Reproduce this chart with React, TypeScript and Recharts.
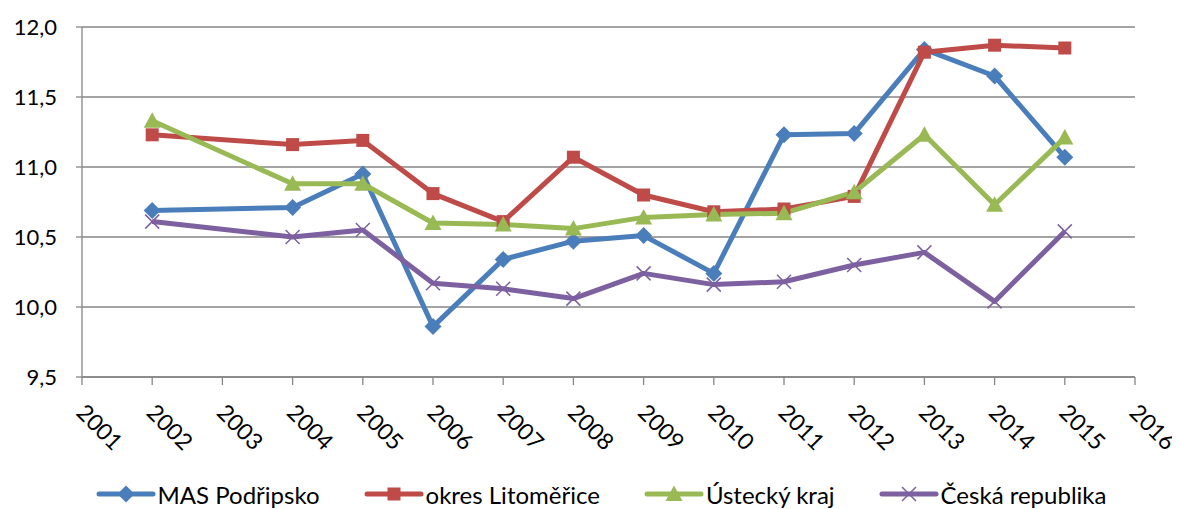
import React from 'react';
import { LineChart, Line, XAxis, YAxis, CartesianGrid, Legend } from 'recharts';

const years = [2002, 2004, 2005, 2006, 2007, 2008, 2009, 2010, 2011, 2012, 2013, 2014, 2015];
const masPodripsko = [10.69, 10.71, 10.95, 9.86, 10.34, 10.47, 10.51, 10.24, 11.23, 11.24, 11.84, 11.65, 11.07];
const okresLitomerice = [11.23, 11.16, 11.19, 10.81, 10.61, 11.07, 10.8, 10.68, 10.7, 10.79, 11.82, 11.87, 11.85];
const usteckyKraj = [11.33, 10.88, 10.88, 10.6, 10.59, 10.56, 10.64, 10.66, 10.67, 10.82, 11.23, 10.73, 11.21];
const ceskaRepublika = [10.61, 10.5, 10.55, 10.17, 10.13, 10.06, 10.24, 10.16, 10.18, 10.3, 10.39, 10.04, 10.54];

const xTicks = [2001, 2002, 2003, 2004, 2005, 2006, 2007, 2008, 2009, 2010, 2011, 2012, 2013, 2014, 2015, 2016];
const yTicks = [9.5, 10, 10.5, 11, 11.5, 12];

const data = years.map((year, i) => ({
  year,
  mas: masPodripsko[i],
  okres: okresLitomerice[i],
  ustecky: usteckyKraj[i],
  cr: ceskaRepublika[i],
}));

const FONT = 'Lato, "Liberation Sans", sans-serif';
const GRAY = '#868686';

type MarkerType = 'diamond' | 'square' | 'triangle' | 'x';

const series: { key: string; name: string; color: string; marker: MarkerType }[] = [
  { key: 'mas', name: 'MAS Podřipsko', color: '#4A7EBB', marker: 'diamond' },
  { key: 'okres', name: 'okres Litoměřice', color: '#BE4B48', marker: 'square' },
  { key: 'ustecky', name: 'Ústecký kraj', color: '#98B954', marker: 'triangle' },
  { key: 'cr', name: 'Česká republika', color: '#7D60A0', marker: 'x' },
];

function Marker({ type, cx, cy, color }: { type: MarkerType; cx: number; cy: number; color: string }) {
  if (cx == null || cy == null) return null;
  switch (type) {
    case 'diamond':
      return (
        <polygon
          points={`${cx},${cy - 8.5} ${cx + 8.5},${cy} ${cx},${cy + 8.5} ${cx - 8.5},${cy}`}
          fill={color}
        />
      );
    case 'square':
      return <rect x={cx - 6.5} y={cy - 6.5} width={13} height={13} fill={color} />;
    case 'triangle':
      return (
        <polygon
          points={`${cx},${cy - 8.5} ${cx + 8.5},${cy + 7} ${cx - 8.5},${cy + 7}`}
          fill={color}
        />
      );
    case 'x':
      return (
        <path
          d={`M${cx - 7},${cy - 7}L${cx + 7},${cy + 7}M${cx + 7},${cy - 7}L${cx - 7},${cy + 7}`}
          stroke={color}
          strokeWidth={1.5}
          fill="none"
        />
      );
  }
  return null;
}

const XTick = (props: any) => {
  const { x, y, payload } = props;
  const ax = x - 7;
  const ay = y + 27;
  return (
    <text
      x={ax}
      y={ay}
      transform={`rotate(45, ${ax}, ${ay})`}
      textAnchor="start"
      fontFamily={FONT}
      fontSize={23}
      fill="#000"
    >
      {payload.value}
    </text>
  );
};

const renderLegend = () => (
  <div
    style={{
      display: 'flex',
      justifyContent: 'center',
      alignItems: 'center',
      height: 30,
      fontFamily: FONT,
      fontSize: 24,
      color: '#000',
      paddingLeft: 14,
    }}
  >
    {series.map((s, i) => (
      <div key={s.key} style={{ display: 'flex', alignItems: 'center', marginLeft: i ? 44 : 0 }}>
        <svg width={60} height={20} style={{ display: 'block' }}>
          <line x1={3} y1={10} x2={57} y2={10} stroke={s.color} strokeWidth={5} strokeLinecap="round" />
          <Marker type={s.marker} cx={30} cy={10} color={s.color} />
        </svg>
        <span style={{ marginLeft: 2, whiteSpace: 'nowrap' }}>{s.name}</span>
      </div>
    ))}
  </div>
);

export default function App() {
  return (
    <LineChart
      width={1172}
      height={501}
      data={data}
      margin={{ top: 19, right: 45, left: 0, bottom: 0 }}
      style={{ overflow: 'visible' }}
    >
      <CartesianGrid horizontal vertical={false} stroke={GRAY} strokeWidth={1.3} />
      <XAxis
        type="number"
        dataKey="year"
        domain={[2001, 2016]}
        ticks={xTicks}
        interval={0}
        height={102}
        tickSize={8}
        stroke={GRAY}
        axisLine={{ stroke: GRAY, strokeWidth: 1.3 }}
        tickLine={{ stroke: GRAY, strokeWidth: 1.3 }}
        tick={<XTick />}
      />
      <YAxis
        type="number"
        domain={[9.5, 12]}
        ticks={yTicks}
        interval={0}
        width={74}
        tickSize={6}
        tickMargin={19}
        axisLine={{ stroke: GRAY, strokeWidth: 1.3 }}
        tickLine={{ stroke: GRAY, strokeWidth: 1.3 }}
        tick={{ fill: '#000', fontFamily: FONT, fontSize: 22 }}
        tickFormatter={(v: number) => v.toFixed(1).replace('.', ',')}
      />
      <Legend verticalAlign="bottom" content={renderLegend} wrapperStyle={{ left: 0, width: 1172 }} />
      {series.map((s) => (
        <Line
          key={s.key}
          type="linear"
          dataKey={s.key}
          name={s.name}
          stroke={s.color}
          strokeWidth={5}
          strokeLinejoin="round"
          isAnimationActive={false}
          dot={(p: any) => (
            <Marker key={`${s.key}-${p.index}`} type={s.marker} cx={p.cx} cy={p.cy} color={s.color} />
          )}
          activeDot={false}
        />
      ))}
    </LineChart>
  );
}
